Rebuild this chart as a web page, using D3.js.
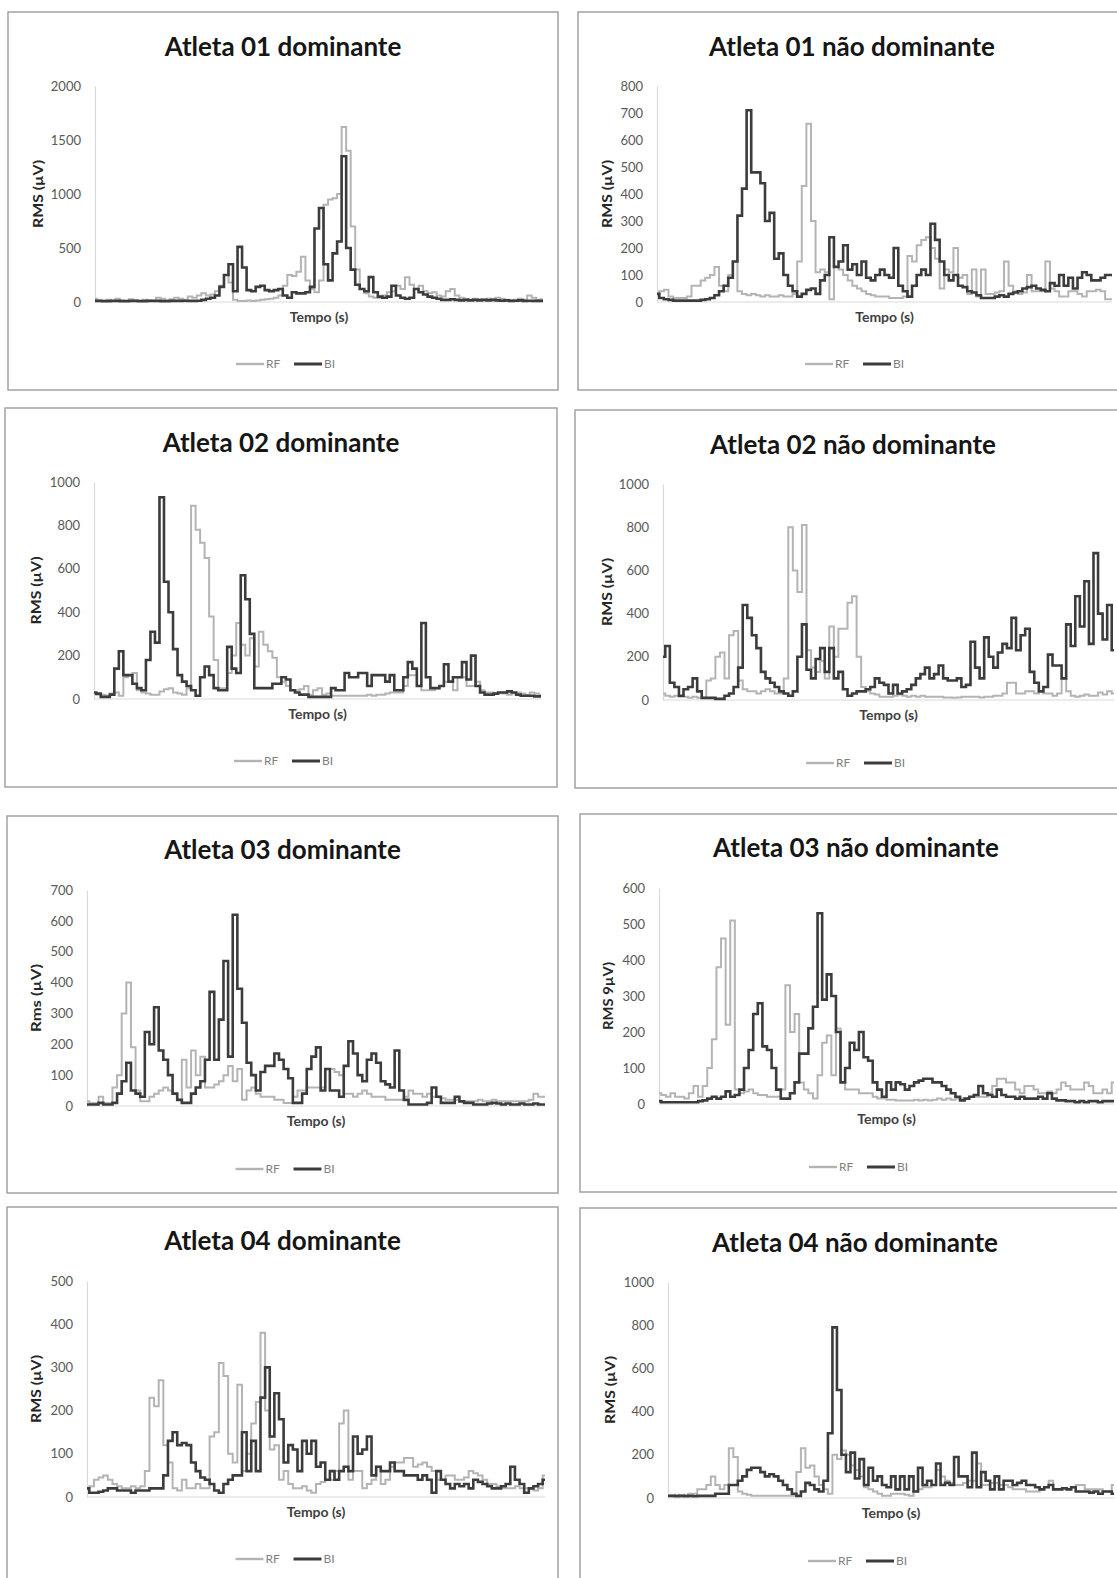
<!DOCTYPE html>
<html>
<head>
<meta charset="utf-8">
<script src="https://cdn.jsdelivr.net/npm/d3@7"></script>
<style>
  body { margin: 0; background: #fff; }
  svg { display: block; font-family: Lato, "Open Sans", sans-serif; }
</style>
</head>
<body>
<svg id="chart" width="1117" height="1578"></svg>
<script>

// RMS (µV) traces, 100 samples each, left to right
let rf01d = [30,15,10,20,10,30,15,10,25,15, 10,20,15,10,40,30,15,25,40,30, 20,50,40,60,80,60,70,100,150,250,
  180,20,10,10,15,10,15,20,25,30, 40,60,150,250,240,280,420,200,120,90, 200,900,950,960,1000,1620,1400,700,300,120,
  80,50,40,40,60,90,100,150,120,230, 160,120,150,100,80,90,60,50,100,120, 60,40,30,20,30,25,20,30,25,40,
  30,20,15,20,30,20,60,40,20,25]
let bi01d = [10,10,8,8,10,10,8,8,10,10, 8,8,10,10,10,8,8,10,10,10, 12,10,10,12,20,30,40,60,140,250,
  350,100,510,320,110,100,140,150,110,100, 110,120,60,40,90,80,80,90,140,680, 870,350,200,450,560,1350,500,300,160,120,
  100,230,90,50,40,50,150,60,40,30, 40,120,90,70,50,40,30,20,20,25, 20,15,20,15,20,15,20,15,20,15,
  12,15,10,12,15,10,12,10,10,10]

let rf01n = [30,40,45,20,15,15,15,20,60,60, 80,90,100,130,60,40,100,150,40,30, 25,30,25,20,25,20,20,25,20,20,
  30,150,430,660,300,110,120,110,10,130, 120,100,80,60,50,40,30,25,20,20, 20,15,15,15,20,170,150,210,230,240,
  200,160,50,120,110,200,90,100,30,120, 20,120,30,30,35,40,150,60,40,30, 35,100,40,40,40,150,50,40,20,20,
  40,40,30,20,40,40,45,40,10,10]
let bi01n = [30,15,10,8,5,5,5,5,5,5, 8,10,15,25,40,60,90,150,320,420, 710,480,480,440,300,330,160,180,100,60,
  40,20,30,45,50,30,80,100,240,130, 150,210,120,140,100,150,90,80,100,120, 100,90,200,60,40,20,60,100,120,100,
  290,230,150,100,80,100,60,55,40,35, 25,15,15,15,20,25,20,30,35,40, 50,55,60,50,45,40,70,60,100,60,
  90,50,90,110,100,80,80,90,100,100]

let rf02d = [25,20,20,15,25,30,15,100,110,120, 40,30,25,20,20,35,45,50,30,25, 20,50,890,780,720,650,380,180,50,50,
  120,200,350,250,200,280,150,310,250,220, 190,100,80,60,40,40,45,60,20,40, 50,20,25,15,15,15,15,15,15,15,
  15,20,15,20,20,25,30,30,30,60, 110,110,60,40,40,40,50,60,80,80, 40,100,100,60,60,80,40,30,30,25,
  30,25,20,25,30,25,20,30,25,20]
let bi02d = [30,25,10,10,20,140,220,110,110,70, 50,40,180,310,260,930,540,400,230,110, 80,60,40,15,100,150,110,50,40,40,
  240,140,120,570,460,300,50,50,50,50, 70,70,100,90,40,30,20,20,10,10, 10,10,10,50,40,40,120,100,100,120,
  120,60,110,110,110,80,110,40,40,100, 170,140,60,350,100,50,50,60,160,80, 100,100,170,90,200,60,30,20,20,25,
  30,30,35,30,20,15,15,15,12,12]

let rf02n = [30,20,15,20,15,15,10,15,10,10, 90,100,200,220,100,300,320,90,50,40, 40,30,40,50,40,30,30,100,800,600,
  500,810,230,150,130,180,100,340,200,330, 330,450,480,200,60,40,30,25,15,15, 15,20,25,20,15,20,15,20,15,15,
  15,15,12,12,10,12,15,15,15,15, 12,15,15,20,20,30,80,80,30,30, 40,40,30,40,30,30,20,30,100,40,
  20,15,20,25,20,20,35,25,40,30]
let bi02n = [200,250,80,60,20,50,60,100,40,10, 10,10,5,5,20,30,60,150,440,380, 300,240,130,100,80,60,40,30,20,40,
  200,350,140,100,190,240,130,240,100,130, 50,20,30,40,40,50,60,100,80,70, 30,70,30,40,50,70,100,120,150,100,
  120,160,100,90,90,100,60,70,270,150, 100,290,200,150,220,260,240,380,230,300, 330,130,80,40,60,210,160,160,100,350,
  250,480,340,550,260,680,400,280,440,230]

let rf03d = [15,10,10,30,10,10,60,100,300,400, 190,50,15,15,30,40,50,60,50,40, 20,150,60,180,100,160,60,60,70,80,
  100,130,80,120,20,50,60,40,30,30, 30,20,20,10,10,30,50,50,60,60, 60,60,120,120,110,100,40,40,30,40,
  50,40,30,30,30,20,20,20,20,30, 50,40,40,30,40,30,30,25,20,20, 20,15,15,15,15,20,15,15,20,15,
  15,15,15,15,15,15,20,40,30,30]
let bi03d = [5,5,5,10,5,5,10,40,80,140, 50,40,30,240,200,320,180,150,100,40, 20,10,10,40,60,80,150,370,150,280,
  470,160,620,380,270,140,100,50,110,130, 130,170,150,120,90,10,10,40,120,160, 190,50,120,50,50,30,130,210,170,100,
  80,150,170,140,80,70,60,180,50,20, 5,5,5,5,10,60,30,10,10,10, 30,15,10,10,5,5,5,8,10,8,
  5,8,5,5,8,5,5,8,5,5]

let rf03n = [30,25,20,30,20,20,15,30,50,20, 50,100,180,380,460,220,510,40,30,35, 40,30,25,25,20,20,20,40,330,200,
  250,60,40,30,15,80,170,190,80,210, 60,40,40,40,30,30,30,20,15,15, 12,12,10,10,10,10,12,10,12,10,
  12,15,12,15,12,15,15,15,20,20, 20,20,30,50,70,70,60,60,40,30, 50,50,40,30,30,35,30,40,60,50,
  40,40,40,60,50,30,30,40,30,60]
let bi03n = [8,5,5,5,5,5,5,5,5,8, 10,15,20,15,20,35,20,25,40,100, 150,250,280,160,150,100,40,15,15,30,
  60,140,140,210,270,530,290,360,300,200, 60,100,170,150,200,130,120,60,40,20, 60,40,60,55,40,50,60,65,70,70,
  60,60,50,40,30,20,10,15,20,25, 50,30,25,20,40,25,20,20,15,20, 15,15,15,20,15,30,15,10,10,8,
  8,5,8,5,8,8,5,8,8,8]

let rf04d = [20,25,40,45,50,40,30,25,20,20, 25,20,25,60,230,210,270,120,80,20, 15,40,20,20,30,20,20,140,150,310,
  280,100,80,260,60,100,170,220,380,200, 110,120,40,60,30,20,20,25,15,10, 30,35,40,40,60,170,200,40,60,60,
  20,30,40,70,30,40,70,80,80,90, 90,70,75,80,70,60,40,40,50,50, 40,40,45,60,55,50,40,30,30,25,
  20,20,20,25,20,20,20,15,20,50]
let bi04d = [20,10,10,12,15,20,20,15,15,15, 10,15,15,15,20,20,20,50,130,150, 120,125,120,80,60,45,40,30,15,10,
  30,40,50,50,150,60,130,60,230,300, 140,240,180,80,120,110,60,130,100,130, 70,80,40,60,40,60,70,60,140,100,
  110,140,50,70,60,60,80,60,60,50, 50,50,40,50,40,10,60,40,30,20, 30,25,30,20,40,35,30,25,20,20,
  25,30,70,40,30,10,20,25,30,40]

let rf04n = [10,12,15,12,15,20,20,40,40,60, 100,60,40,60,230,190,30,20,15,10, 10,10,10,10,10,10,10,10,10,120,
  230,140,150,100,60,40,20,200,180,220, 200,150,130,100,50,40,30,20,10,10, 20,20,20,15,10,30,40,50,50,60,
  130,100,80,70,60,60,70,80,80,160, 60,60,70,70,60,60,50,40,40,40, 30,30,30,40,50,80,40,40,40,40,
  50,60,60,40,40,40,40,30,30,60]
let bi04n = [10,10,8,10,8,10,8,10,10,10, 10,20,20,20,60,60,80,100,130,140, 140,120,100,110,100,80,60,40,20,10,
  30,70,60,40,30,80,300,790,500,200, 120,210,90,180,60,140,80,100,60,50, 100,40,100,40,100,30,140,60,80,60,
  160,60,70,60,190,100,100,50,210,50, 120,80,40,100,40,80,80,60,70,80, 60,60,50,40,50,60,40,40,45,40,
  50,30,30,30,25,30,20,30,30,20]

let titles = ["Atleta 01 dominante", "Atleta 01 não dominante", "Atleta 02 dominante", "Atleta 02 não dominante",
  "Atleta 03 dominante", "Atleta 03 não dominante", "Atleta 04 dominante", "Atleta 04 não dominante"]
let yTitles = ["RMS (µV)", "RMS (µV)", "RMS (µV)", "RMS (µV)", "Rms (µV)", "RMS 9µV)", "RMS (µV)", "RMS (µV)"]
let xTitles = ["Tempo (s)", "Tempo (s)", "Tempo (s)", "Tempo (s)", "Tempo  (s)", "Tempo (s)", "Tempo (s)", "Tempo (s)"]
let yMax = [2000, 800, 1000, 1000, 700, 600, 500, 1000]
let yStep = [500, 100, 200, 200, 100, 100, 100, 200]
let seriesNames = ["RF", "BI"]

let rfSeries = [rf01d, rf01n, rf02d, rf02n, rf03d, rf03n, rf04d, rf04n]
let biSeries = [bi01d, bi01n, bi02d, bi02n, bi03d, bi03n, bi04d, bi04n]

// page layout: frame box [x, y, w, h], plot area [left, right, top, bottom]
let layout = [
  { frame: [8, 12, 550, 378],   plot: [95, 543, 86, 302],     titleY: 47,   yTitleX: 38,  legendY: 364 },
  { frame: [578, 12, 548, 378], plot: [657, 1112, 86, 302],   titleY: 47,   yTitleX: 607, legendY: 364 },
  { frame: [5, 408, 552, 379],  plot: [94, 541, 482, 699],    titleY: 443,  yTitleX: 36,  legendY: 761 },
  { frame: [575, 410, 556, 378], plot: [663, 1114, 484, 700], titleY: 445,  yTitleX: 607, legendY: 763 },
  { frame: [7, 816, 551, 377],  plot: [87, 545, 890, 1106],   titleY: 850,  yTitleX: 36,  legendY: 1169 },
  { frame: [580, 814, 552, 378], plot: [659, 1114, 888, 1104], titleY: 848, yTitleX: 608, legendY: 1167 },
  { frame: [7, 1207, 551, 420], plot: [87, 545, 1281, 1497],  titleY: 1241, yTitleX: 36,  legendY: 1559 },
  { frame: [580, 1208, 550, 420], plot: [668, 1114, 1282, 1498], titleY: 1243, yTitleX: 610, legendY: 1561 }
]

let colors = { RF: "#b4b4b4", BI: "#3c3c3c" }
let widths = { RF: 2, BI: 2.6 }

let svg = d3.select("#chart")

function drawPanel(k) {
  let L = layout[k]
  let [fx, fy, fw, fh] = L.frame
  let [x0, x1, yTop, yBottom] = L.plot
  let g = svg.append("g")

  g.append("rect")
      .attr("x", fx).attr("y", fy)
      .attr("width", fw).attr("height", fh)
      .attr("fill", "#fff")
      .attr("stroke", "#a3a3a3")
      .attr("stroke-width", 1.5)

  g.append("text")
      .attr("x", fx + fw / 2)
      .attr("y", L.titleY)
      .attr("dy", "0.35em")
      .attr("text-anchor", "middle")
      .attr("font-size", 26)
      .attr("font-weight", "bold")
      .attr("fill", "#161616")
      .text(titles[k])

  let n = rfSeries[k].length
  let x = d3.scaleLinear().domain([0, n - 1]).range([x0, x1])
  let y = d3.scaleLinear().domain([0, yMax[k]]).range([yBottom, yTop])

  let yAxis = d3.axisLeft(y)
      .tickValues(d3.range(0, yMax[k] + 1, yStep[k]))
      .tickFormat(d3.format("d"))
      .tickSize(0)
      .tickPadding(14)

  let ax = g.append("g")
      .attr("transform", "translate(" + x0 + ",0)")
      .call(yAxis)
      .attr("font-family", null)
      .attr("font-size", null)
  ax.select(".domain").attr("stroke", "#d9d9d9").attr("stroke-width", 1.2)
  ax.selectAll("text").attr("fill", "#595959").attr("font-size", 13)

  g.append("line")
      .attr("x1", x0).attr("x2", x1)
      .attr("y1", y(0)).attr("y2", y(0))
      .attr("stroke", "#d9d9d9")

  g.append("text")
      .attr("transform", "translate(" + L.yTitleX + "," + (yTop + yBottom) / 2 + ") rotate(-90)")
      .attr("dy", "0.35em")
      .attr("text-anchor", "middle")
      .attr("font-size", 14)
      .attr("font-weight", "bold")
      .attr("fill", "#262626")
      .attr("textLength", 68)
      .attr("lengthAdjust", "spacingAndGlyphs")
      .text(yTitles[k])

  g.append("text")
      .attr("x", (x0 + x1) / 2)
      .attr("y", yBottom + 15)
      .attr("dy", "0.35em")
      .attr("text-anchor", "middle")
      .attr("font-size", 14)
      .attr("font-weight", "bold")
      .attr("fill", "#404040")
      .text(xTitles[k])

  let line = d3.line()
      .x(function(d, i) { return x(i) })
      .y(function(d) { return y(d) })
      .curve(d3.curveStep)

  let traces = [rfSeries[k], biSeries[k]]
  g.selectAll(".trace")
      .data(traces)
    .enter().append("path")
      .attr("class", "trace")
      .attr("fill", "none")
      .attr("stroke", function(d, i) { return colors[seriesNames[i]] })
      .attr("stroke-width", function(d, i) { return widths[seriesNames[i]] })
      .attr("d", line)

  // legend under the plot
  let lx = fx + fw / 2 + 3
  let item = g.selectAll(".legend")
      .data(seriesNames)
    .enter().append("g")
      .attr("class", "legend")
      .attr("transform", function(d, i) { return "translate(" + (lx - 50 + i * 58) + "," + L.legendY + ")" })

  item.append("line")
      .attr("x1", 0).attr("x2", 28)
      .attr("stroke", function(d) { return colors[d] })
      .attr("stroke-width", function(d) { return widths[d] + 0.4 })

  item.append("text")
      .attr("x", 30)
      .attr("dy", "0.35em")
      .attr("font-size", 12)
      .attr("fill", "#808080")
      .text(function(d) { return d })
}

for (let k = 0; k < titles.length; k++) drawPanel(k)

</script>
</body>
</html>
